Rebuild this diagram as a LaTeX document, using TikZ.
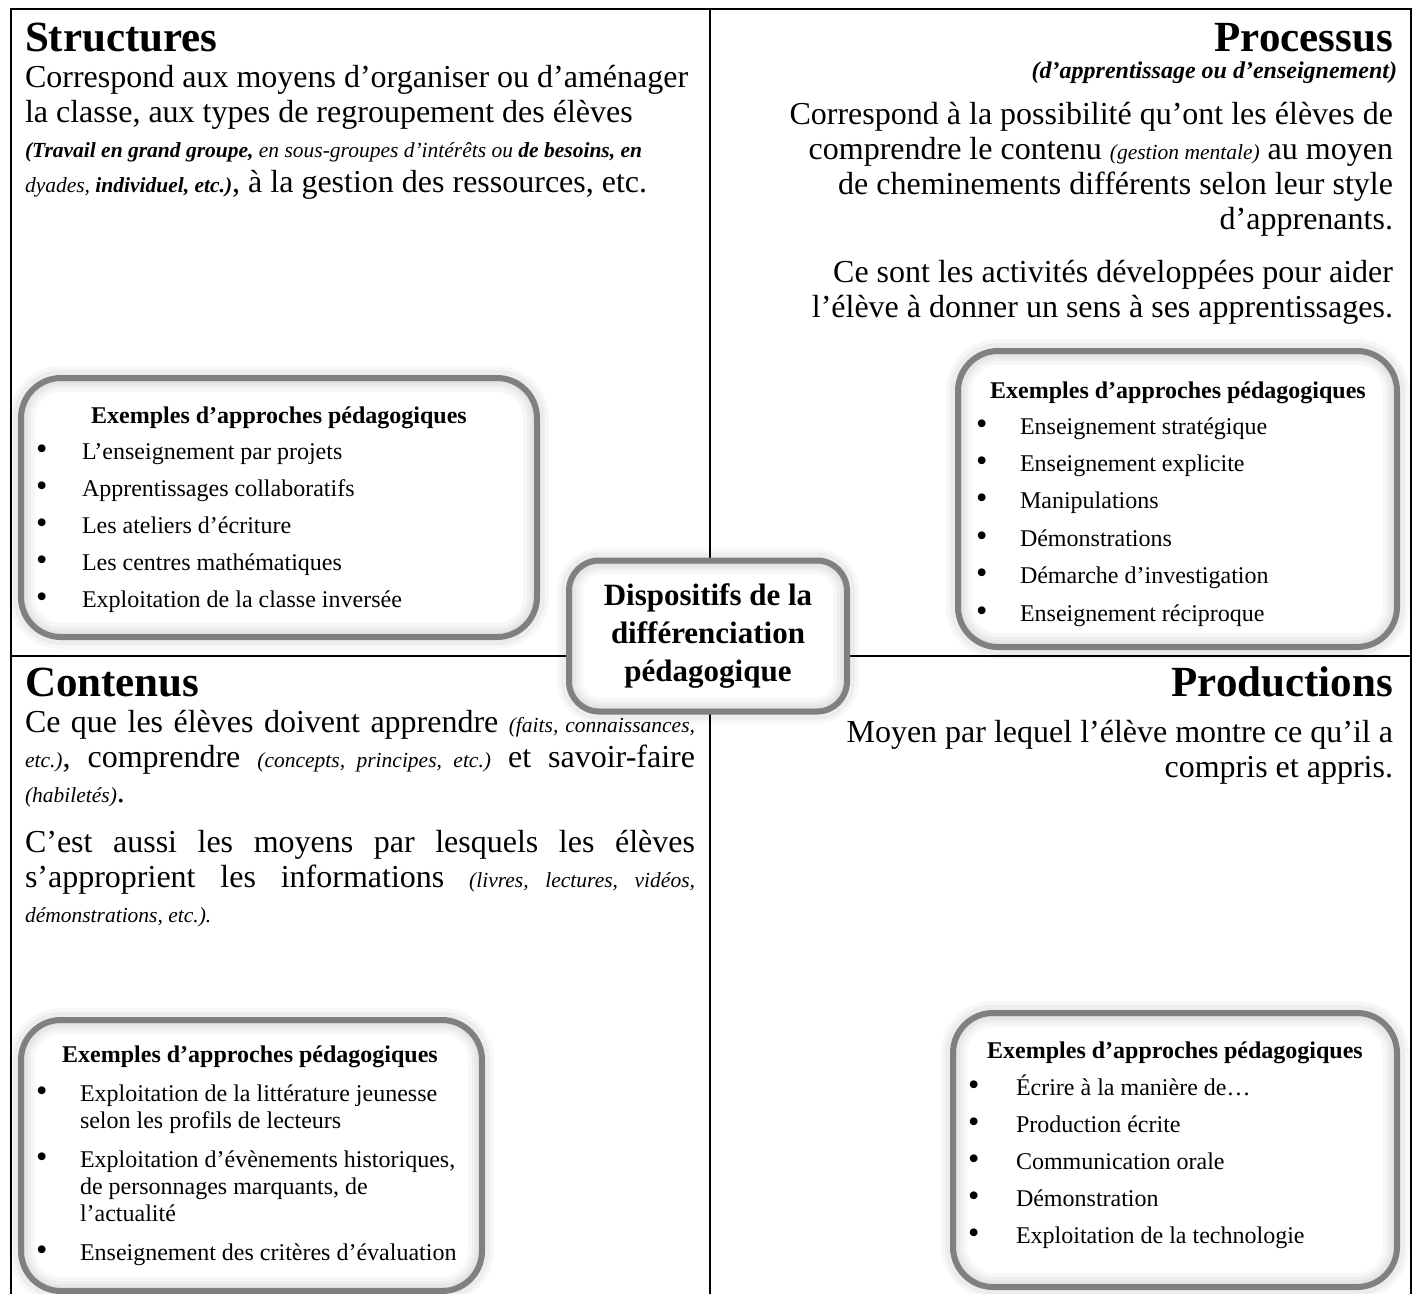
\documentclass[tikz,border=0pt]{standalone}
\usepackage{fontspec}
\setmainfont{Liberation Serif}
\frenchspacing
\usetikzlibrary{positioning,calc}
\tikzset{
    every node/.style={inner sep=0pt, outer sep=0pt},
    frameline/.style={line width=2pt},
    headtext/.style={font=\fontsize{43}{48}\selectfont\bfseries},
    bodytext/.style={font=\fontsize{32}{35}\selectfont},
    exbox/.style={draw=black!50, line width=6pt, fill=white, rounded corners=#1,
        preaction={draw=black, draw opacity=.03, line width=24pt},
        preaction={draw=black, draw opacity=.04, line width=16pt},
        path picture={\foreach \w in {8,14,20,28}
            \draw[black, draw opacity=.03, line width=\w pt, rounded corners=#1]
            (path picture bounding box.north west) rectangle (path picture bounding box.south east);}},
    exbox/.default=40pt,
    exhead/.style={font=\fontsize{24}{27}\selectfont\bfseries, anchor=base},
    exitem/.style={font=\fontsize{24}{27}\selectfont, anchor=base west},
}
\newcommand{\smallit}[1]{{\fontsize{21.5}{35}\selectfont\itshape #1}}
\newcommand{\bitem}[2][44pt]{\makebox[#1][l]{\scalebox{1.35}{\textbullet}}\parbox[t]{400pt}{#2}}

\begin{document}
\begin{tikzpicture}[x=1pt, y=-1pt]
  \useasboundingbox (0,0) rectangle (1413,1293);
  % frame of the four panels
  \coordinate (nw) at (11,9);
  \coordinate (ne) at (1411,9);
  \draw[frameline] (11,1300) -- (nw) -- (ne) -- (1411,1300);
  \draw[frameline] (710,9) -- (710,1300);
  \draw[frameline] (11,656) -- (1411,656);

  % Structures
  \node[headtext, anchor=base west] (tS) at (25,51) {Structures};
  \node[bodytext, anchor=base west, text width=690pt, align=flush left] (dS) at (25,87)
    {Correspond aux moyens d’organiser ou d’aménager\\
     la classe, aux types de regroupement des élèves\\
     \smallit{\bfseries (Travail en grand groupe, {\mdseries en sous-groupes d’intérêts ou} de besoins, en}\\
     \smallit{dyades, {\bfseries individuel, etc.)}}, à la gestion des ressources, etc.};
  \node[exbox, minimum width=516pt, minimum height=259pt] (boxS) at (279,507.5) {};
  \node[exhead] (hS) at (279,423) {Exemples d’approches pédagogiques};
  \foreach \txt [count=\i from 0] in {L’enseignement par projets, Apprentissages collaboratifs,
      Les ateliers d’écriture, Les centres mathématiques, Exploitation de la classe inversée}
    \node[exitem] (s\i) at (36,{459+37.2*\i}) {\bitem[46pt]{\txt}};

  % Processus
  \node[headtext, anchor=base east] (tP) at (1393,51) {Processus};
  \node[anchor=base east, font=\fontsize{24}{28}\selectfont\bfseries\itshape] (sP) at (1397,78)
    {(d’apprentissage ou d’enseignement)};
  \node[bodytext, anchor=base east, text width=640pt, align=flush right] (dP) at (1393,124)
    {Correspond à la possibilité qu’ont les élèves de\\
     comprendre le contenu \smallit{(gestion mentale)} au moyen\\
     de cheminements différents selon leur style\\
     d’apprenants.\\[18pt]
     Ce sont les activités développées pour aider\\
     l’élève à donner un sens à ses apprentissages.};
  \node[exbox, minimum width=439pt, minimum height=296pt] (boxP) at (1177.5,499) {};
  \node[exhead] (hP) at (1178,398) {Exemples d’approches pédagogiques};
  \foreach \txt [count=\i from 0] in {Enseignement stratégique, Enseignement explicite,
      Manipulations, Démonstrations, Démarche d’investigation, Enseignement réciproque}
    \node[exitem] (p\i) at (976,{434+37.4*\i}) {\bitem[44pt]{\txt}};

  % Contenus
  \node[headtext, anchor=base west] (tC) at (25,696) {Contenus};
  \node[bodytext, anchor=base west, text width=670pt, align=justify] (dC) at (25,732)
    {\tolerance=9999 \hbadness=10000 \hfuzz=20pt
     Ce que les élèves doivent apprendre \smallit{(faits, connaissances,}\linebreak
     \smallit{etc.)}, comprendre \smallit{(concepts, principes, etc.)} et savoir-faire\linebreak
     \smallit{(habiletés)}.\par\vspace{15pt}
     C’est aussi les moyens par lesquels les élèves\linebreak
     s’approprient les informations \smallit{(livres, lectures, vidéos,}\linebreak
     \smallit{démonstrations, etc.).}};
  \node[exbox, minimum width=461pt, minimum height=271pt] (boxC) at (251.5,1155.5) {};
  \node[exhead] (hC) at (250,1062) {Exemples d’approches pédagogiques};
  \foreach \y/\txt [count=\i] in {1101/{Exploitation de la littérature jeunesse\\ selon les profils de lecteurs},
      1167/{Exploitation d’évènements historiques,\\ de personnages marquants, de\\ l’actualité},
      1260/{Enseignement des critères d’évaluation}}
    \node[exitem] (c\i) at (36,\y) {\bitem[44pt]{\txt}};

  % Productions
  \node[headtext, anchor=base east] (tR) at (1393,696) {Productions};
  \node[bodytext, anchor=base east, text width=640pt, align=flush right] (dR) at (1393,742)
    {Moyen par lequel l’élève montre ce qu’il a\\ compris et appris.};
  \node[exbox, minimum width=444pt, minimum height=274pt] (boxR) at (1175,1150) {};
  \node[exhead] (hR) at (1175,1058) {Exemples d’approches pédagogiques};
  \foreach \txt [count=\i from 0] in {Écrire à la manière de…, Production écrite,
      Communication orale, Démonstration, Exploitation de la technologie}
    \node[exitem] (r\i) at (968,{1095+37.2*\i}) {\bitem[48pt]{\txt}};

  % centre
  \node[exbox=30pt, minimum width=278pt, minimum height=151pt,
        font=\fontsize{31}{38}\selectfont\bfseries, align=center] (mid) at (708,636)
    {Dispositifs de la\\ différenciation\\ pédagogique};
\end{tikzpicture}
\end{document}
